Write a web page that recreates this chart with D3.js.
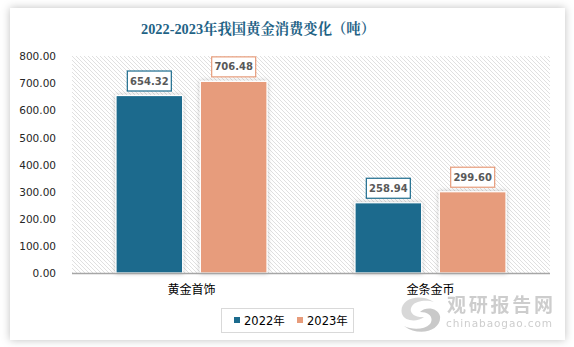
<!DOCTYPE html>
<html><head><meta charset="utf-8">
<script src="https://cdn.jsdelivr.net/npm/d3@7"></script>
<style>
html,body{margin:0;padding:0;background:#fff;}
body{width:574px;height:347px;overflow:hidden;}
</style></head>
<body><svg id="c" width="574" height="347"></svg>
<script>
const categories = ["黄金首饰", "金条金币"];
const seriesNames = ["2022年", "2023年"];
const values2022 = [654.32, 258.94];
const values2023 = [706.48, 299.60];
const yTicks = [0, 100, 200, 300, 400, 500, 600, 700, 800];
const colors = ["#1c6b8d", "#e79c7b"];
const title = "2022-2023年我国黄金消费变化（吨）";

(function(){
const svg = d3.select("#c");
const defs = svg.append("defs");
const cardShadow = defs.append("filter").attr("id","cs").attr("x","-10%").attr("y","-10%").attr("width","120%").attr("height","120%");
cardShadow.append("feDropShadow").attr("dx",0).attr("dy",0).attr("stdDeviation",4).attr("flood-color","#000").attr("flood-opacity",0.25);
const barShadow = defs.append("filter").attr("id","bs").attr("x","-20%").attr("y","-20%").attr("width","140%").attr("height","140%");
barShadow.append("feDropShadow").attr("dx",0).attr("dy",0).attr("stdDeviation",2).attr("flood-color","#000").attr("flood-opacity",0.25);
const pat = defs.append("pattern").attr("id","hatch").attr("patternUnits","userSpaceOnUse").attr("width",4).attr("height",4);
pat.append("rect").attr("width",4).attr("height",4).attr("fill","#fff");
pat.append("path").attr("d","M-1,-1 L5,5 M-1,3 L1,5 M3,-1 L5,1").attr("stroke","#e0e0e0").attr("stroke-width",1);

// card
svg.append("rect").attr("x",10).attr("y",8).attr("width",555).attr("height",332).attr("fill","#fff").attr("filter","url(#cs)");

// title
svg.append("text").attr("x",258).attr("y",34).attr("text-anchor","middle")
  .attr("font-family","'Liberation Serif','Noto Serif CJK SC','Noto Sans CJK SC',serif")
  .attr("font-weight","bold").attr("font-size",15).attr("textLength",234).attr("lengthAdjust","spacingAndGlyphs")
  .attr("fill","#1f6386").text(title);

const pL = 72, pR = 550, pT = 56, pB = 273;
const x0 = d3.scaleBand().domain(categories).range([pL, pR]).paddingInner(0).paddingOuter(0);
const y = d3.scaleLinear().domain([0, 800]).range([pB, pT]);
const x1 = d3.scaleBand().domain(seriesNames).range([-75.5, 75.5]).paddingInner(0.21).paddingOuter(0);

// hatched plot bg
svg.append("rect").attr("x",pL).attr("y",pT).attr("width",pR-pL).attr("height",pB-pT).attr("fill","url(#hatch)");

// y axis labels
const yAxis = d3.axisLeft(y).tickValues(yTicks).tickFormat(d3.format(".2f")).tickSize(0).tickPadding(0);
const ya = svg.append("g").attr("transform",`translate(56,0)`).call(yAxis);
ya.select(".domain").remove();
ya.selectAll("text").attr("font-family","'DejaVu Sans',Verdana,sans-serif").attr("font-size",10.5).attr("fill","#262626").attr("dy","0.35em");

// bars
const data = categories.map((c,i)=>({cat:c, vals:[values2022[i], values2023[i]]}));
const g = svg.append("g");
data.forEach(d=>{
  const cx = x0(d.cat) + x0.bandwidth()/2;
  d.vals.forEach((v,j)=>{
    const bx = cx + x1(seriesNames[j]);
    const bw = x1.bandwidth();
    g.append("rect").attr("x",bx).attr("y",y(v)).attr("width",bw).attr("height",y(0)-y(v))
      .attr("fill",colors[j]).attr("stroke","#fff").attr("stroke-width",1.2).attr("filter","url(#bs)");
    const label = v.toFixed(2);
    const bh = 20, bwid = 44;
    const lx = bx + bw/2;
    g.append("rect").attr("x",lx - bwid/2).attr("y",y(v) - 4.5 - bh).attr("width",bwid).attr("height",bh)
      .attr("fill","#fff").attr("stroke",colors[j]).attr("stroke-width",1.2);
    g.append("text").attr("x",lx).attr("y",y(v) - 4.5 - bh/2).attr("dy","0.36em").attr("text-anchor","middle")
      .attr("font-family","'DejaVu Sans',Verdana,sans-serif").attr("font-weight","bold").attr("font-size",10)
      .attr("fill","#595959").text(label);
  });
});

// baseline
svg.append("line").attr("x1",pL).attr("x2",pR).attr("y1",pB+0.5).attr("y2",pB+0.5).attr("stroke","#a6a6a6").attr("stroke-width",1.5);

// x labels
const xAxis = d3.axisBottom(x0).tickSize(0).tickPadding(0);
const xa = svg.append("g").attr("transform",`translate(0,${pB})`).call(xAxis);
xa.select(".domain").remove();
xa.selectAll("text").attr("font-family","'Noto Sans CJK SC',sans-serif").attr("font-size",12).attr("fill","#000").attr("dy","0").attr("y",21);

// legend
svg.append("rect").attr("x",221.5).attr("y",308.5).attr("width",132).attr("height",24).attr("fill","#fff").attr("stroke","#d9d9d9").attr("stroke-width",1);
const legX = [234, 297];
seriesNames.forEach((s,j)=>{
  svg.append("rect").attr("x",legX[j]).attr("y",317).attr("width",6).attr("height",6).attr("fill",colors[j]);
  svg.append("text").attr("x",legX[j]+10).attr("y",325).attr("font-family","'DejaVu Sans','Noto Sans CJK SC',sans-serif")
    .attr("font-size",11.5).attr("fill","#000").text(s);
});

// watermark
const wm = svg.append("g").attr("opacity",0.9);
wm.append("path").attr("d","M434,302 C418,292 398,300 402,314 C405,322 418,322 424,317 C414,318 408,312 412,306 C416,300 428,300 434,302 Z").attr("fill","#d4d4d4");
wm.append("path").attr("d","M404,326 C420,338 442,330 440,316 C438,308 426,306 420,312 C430,312 434,318 430,324 C424,330 412,330 404,326 Z").attr("fill","#c4c4c4");
wm.append("text").attr("x",447).attr("y",312).attr("font-family","'Noto Sans CJK SC',sans-serif").attr("font-weight","bold")
  .attr("font-size",19).attr("fill","#c8c8c8").attr("textLength",106).text("观研报告网");
wm.append("text").attr("x",446).attr("y",327).attr("font-family","'DejaVu Sans',sans-serif")
  .attr("font-size",10.5).attr("fill","#c8c8c8").attr("textLength",106).text("chinabaogao.com");
})();
</script></body></html>
